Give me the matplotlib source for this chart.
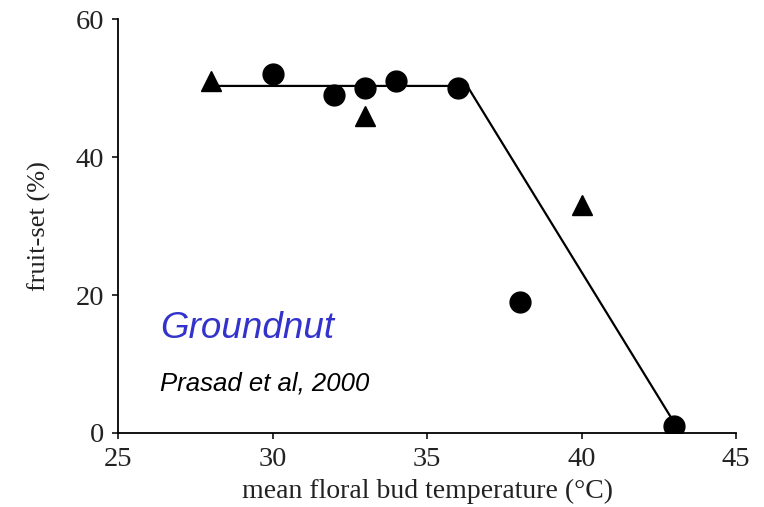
import matplotlib
matplotlib.use("Agg")
import matplotlib.pyplot as plt

# Data
circle_x = [30, 32, 33, 34, 36, 38, 43]
circle_y = [52, 49, 50, 51, 50, 19, 1]
triangle_x = [28, 33, 40]
triangle_y = [51, 46, 33]
fit_x = [28, 36.3, 43]
fit_y = [50.3, 50.3, 1.5]
x_ticks = [25, 30, 35, 40, 45]
y_ticks = [0, 20, 40, 60]

plt.rcParams['font.family'] = ['Liberation Serif', 'DejaVu Serif']

fig = plt.figure(figsize=(7.64, 5.07), dpi=100)
ax = fig.add_axes([118/764, 1-433/507, (736-118)/764, (433-19)/507])

ax.plot(fit_x, fit_y, color='black', lw=1.6, zorder=2)
ax.plot(circle_x, circle_y, 'o', color='black', markersize=15, zorder=3)
ax.plot(triangle_x, triangle_y, '^', color='black', markersize=15, zorder=3)

ax.set_xlim(25, 45)
ax.set_ylim(0, 60)
ax.set_xticks(x_ticks)
ax.set_yticks(y_ticks)
ax.spines['top'].set_visible(False)
ax.spines['right'].set_visible(False)
for s in ['left', 'bottom']:
    ax.spines[s].set_linewidth(1.3)
ax.tick_params(direction='out', length=4, width=1.3, labelsize=20.5, colors='#222222', pad=6)
ax.set_xlabel('mean floral bud temperature (°C)', fontsize=20, color='#222222', labelpad=5)
ax.set_ylabel('fruit-set (%)', fontsize=19, color='#222222', labelpad=18)

ax.text(160/764, 1-338/507, 'Groundnut', transform=fig.transFigure,
        family='Liberation Sans', style='italic', fontsize=26.5, color='#3333cc')
ax.text(160/764, 1-390/507, 'Prasad et al, 2000', transform=fig.transFigure,
        family='Liberation Sans', style='italic', fontsize=18.5, color='black')

fig.savefig('out.png', dpi=100)
